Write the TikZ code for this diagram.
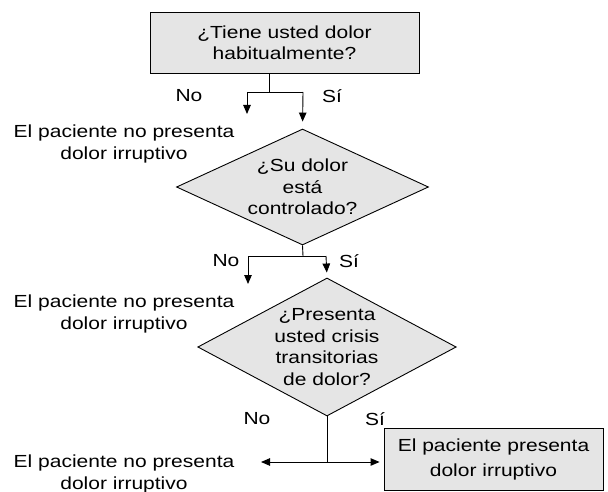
\documentclass[tikz,border=0pt]{standalone}
\usepackage{fontspec}
\setmainfont{Liberation Sans}[FakeStretch=1.2]
\usetikzlibrary{arrows.meta,shapes.geometric,calc}
\begin{document}
\begin{tikzpicture}[x=1pt,y=-1pt,
  every node/.style={font=\fontsize{17.5pt}{21.5pt}\selectfont, inner sep=0pt},
  qbox/.style={draw, line width=0.9pt, fill=black!10, rectangle, align=center},
  qdia/.style={draw, line width=0.9pt, fill=black!10, diamond, aspect=2, align=center},
  txt/.style={align=center},
  lbl/.style={},
  ln/.style={line width=0.9pt},
  arr/.style={line width=0.9pt, -{Triangle[length=9pt,width=7.5pt]}}]
\useasboundingbox (0,0) rectangle (608,492);
% top question
\node[qbox, minimum width=269pt, minimum height=61pt] (q1) at (284.5,42.5) {¿Tiene usted dolor\\habitualmente?};
\coordinate (s1) at (269,92);
\coordinate (l1) at (247,92);
\coordinate (r1) at (303,92);
\coordinate (l1e) at (247,114);
\node[lbl] (no1) at (189,96) {No};
\node[lbl] (si1) at (332,96) {Sí};
\node[txt] (t1) at (124,144) {El paciente no presenta\\dolor irruptivo};
\node[qdia, minimum width=252pt, minimum height=116pt] (d1) at (302.5,187) {¿Su dolor\\está\\controlado?};
\draw[ln] (q1.south -| s1) -- (s1);
\draw[ln] (l1) -- (r1);
\draw[arr] (l1) -- (l1e);
\draw[arr, shorten >=7pt] (r1) -- (d1.north);
% second decision
\coordinate (s2) at (303,256);
\coordinate (l2) at (248,256);
\coordinate (r2) at (326,256);
\coordinate (l2e) at (248,284);
\node[lbl] (no2) at (226,261) {No};
\node[lbl] (si2) at (349,261) {Sí};
\node[txt] (t2) at (124,314) {El paciente no presenta\\dolor irruptivo};
\node[qdia, minimum width=251pt, minimum height=138pt] (d2) at (327,347) {¿Presenta\\usted crisis\\transitorias\\de dolor?};
\draw[ln] (d1.south) -- (s2);
\draw[ln] (l2) -- (r2);
\draw[arr] (l2) -- (l2e);
\draw[arr, shorten >=5pt] (r2) -- (d2.north);
% third decision
\coordinate (s3) at (327,462);
\coordinate (l3e) at (261,462);
\node[lbl] (no3) at (257,419) {No};
\node[lbl] (si3) at (375,419) {Sí};
\node[txt] (t3) at (124,474) {El paciente no presenta\\dolor irruptivo};
\node[qbox, minimum width=219pt, minimum height=62pt, font=\fontsize{17.5pt}{25pt}\selectfont] (b2) at (493.5,459) {El paciente presenta\\dolor irruptivo};
\draw[ln] (d2.south) -- (s3);
\draw[arr] (s3) -- (l3e);
\draw[arr, shorten >=4pt] (s3) -- (b2.west |- s3);
\end{tikzpicture}
\end{document}
